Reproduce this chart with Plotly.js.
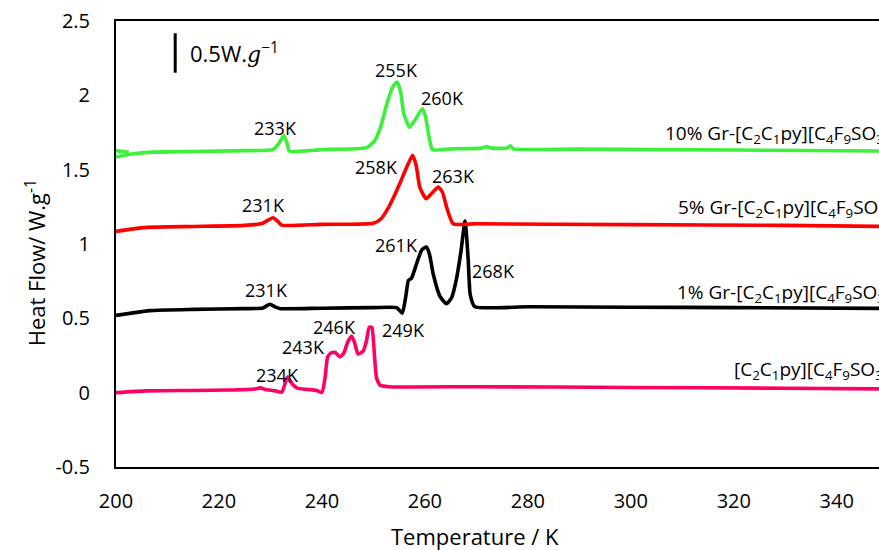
<!DOCTYPE html>
<html>
<head>
<meta charset="utf-8">
<script src="https://cdn.plot.ly/plotly-3.0.1.min.js"></script>
<style>
html, body { margin: 0; padding: 0; overflow: hidden; background: #fff; }
#chart { width: 879px; height: 550px; }
</style>
</head>
<body>
<div id="chart"></div>
<script>
// ---- Data ----
const tempPure = [200, 206, 215, 222, 227, 228, 229, 231, 232.2, 233.3, 234.2, 235.2, 237, 239, 240, 240.6, 241.1, 241.8, 242.6, 243.5, 244.3, 245.0, 245.8, 246.4, 247, 248, 248.6, 249.2, 249.7, 250.1, 250.6, 251.3, 253, 270, 300, 330, 350];
const heatPure = [0.0, 0.012, 0.015, 0.018, 0.025, 0.032, 0.022, 0.012, 0.003, 0.105, 0.06, 0.03, 0.022, 0.015, 0.002, 0.1, 0.24, 0.268, 0.27, 0.24, 0.27, 0.34, 0.38, 0.33, 0.26, 0.28, 0.34, 0.44, 0.44, 0.3, 0.1, 0.05, 0.04, 0.04, 0.035, 0.03, 0.025];

const temp1 = [200, 203, 206.5, 215, 225, 228.5, 229.9, 231, 232, 240, 250, 254.5, 255.6, 256.3, 256.8, 257.4, 258.4, 259.4, 260.3, 260.9, 261.6, 262.9, 264.2, 265.2, 266.1, 267.0, 267.8, 268.4, 268.8, 269.7, 280, 300, 320, 350];
const heat1 = [0.52, 0.535, 0.552, 0.56, 0.565, 0.57, 0.595, 0.575, 0.565, 0.568, 0.572, 0.572, 0.535, 0.65, 0.755, 0.77, 0.87, 0.96, 0.98, 0.93, 0.80, 0.65, 0.598, 0.64, 0.76, 0.95, 1.155, 0.90, 0.66, 0.578, 0.578, 0.575, 0.572, 0.567];

const temp5 = [200, 203, 206, 215, 225, 228.5, 230.5, 231.5, 232.2, 240, 250, 251.5, 252.6, 254, 255.1, 256.5, 257.6, 258.3, 259, 260.2, 261.3, 262.6, 263.4, 264.2, 265.5, 270, 300, 330, 350];
const heat5 = [1.085, 1.1, 1.112, 1.118, 1.125, 1.14, 1.177, 1.15, 1.127, 1.132, 1.14, 1.17, 1.226, 1.32, 1.405, 1.52, 1.597, 1.53, 1.383, 1.305, 1.34, 1.383, 1.35, 1.25, 1.136, 1.136, 1.13, 1.125, 1.118];

const temp10 = [200, 203, 207, 215, 225, 230.5, 231.5, 232.6, 233.2, 233.7, 240, 248.7, 250.3, 251.5, 252.6, 253.8, 254.6, 255.3, 255.9, 257, 258, 259.5, 260.1, 260.7, 261.5, 265, 271, 272, 273, 276, 276.6, 277.2, 290, 320, 350];
const heat10 = [1.585, 1.605, 1.618, 1.622, 1.628, 1.635, 1.67, 1.73, 1.68, 1.625, 1.635, 1.648, 1.697, 1.8, 1.943, 2.06, 2.09, 2.02, 1.876, 1.786, 1.83, 1.91, 1.86, 1.742, 1.634, 1.64, 1.645, 1.655, 1.645, 1.645, 1.66, 1.64, 1.638, 1.632, 1.625];
// short return branch of the 10% curve at the start of the scan
const temp10Start = [200, 202.5];
const heat10Start = [1.628, 1.617];

const seriesNames = [
  "[C<sub>2</sub>C<sub>1</sub>py][C<sub>4</sub>F<sub>9</sub>SO<sub>3</sub>]",
  "1% Gr-[C<sub>2</sub>C<sub>1</sub>py][C<sub>4</sub>F<sub>9</sub>SO<sub>3</sub>]",
  "5% Gr-[C<sub>2</sub>C<sub>1</sub>py][C<sub>4</sub>F<sub>9</sub>SO<sub>3</sub>]",
  "10% Gr-[C<sub>2</sub>C<sub>1</sub>py][C<sub>4</sub>F<sub>9</sub>SO<sub>3</sub>]"
];
const seriesColors = ["#ff0066", "#000000", "#ff0000", "#3cf03c"];

const peakTexts = ["233K", "255K", "260K", "231K", "258K", "263K", "231K", "261K", "268K", "234K", "243K", "246K", "249K"];
const peakX = [230.9, 254.4, 263.5, 228.6, 250.6, 265.5, 229.3, 254.5, 273.4, 231.3, 236.5, 242.5, 255.8];
const peakY = [1.78, 2.17, 1.98, 1.26, 1.515, 1.46, 0.688, 0.99, 0.82, 0.116, 0.305, 0.44, 0.42];

const xTicks = [200, 220, 240, 260, 280, 300, 320, 340];
const yTicks = [-0.5, 0, 0.5, 1, 1.5, 2, 2.5];
const yTickText = ["-0.5", "0", "0.5", "1", "1.5", "2", "2.5"];

// ---- Build ----
const FONT = "'Open Sans', 'Noto Sans', sans-serif";
const xs = [tempPure, temp1, temp5, temp10];
const ys = [heatPure, heat1, heat5, heat10];
const traces = xs.map((x, i) => ({
  x: x, y: ys[i], type: "scatter", mode: "lines",
  line: {color: seriesColors[i], width: 3.6, shape: "spline", smoothing: 0.5},
  hoverinfo: "skip", showlegend: false
}));
traces.push({
  x: temp10Start, y: heat10Start, type: "scatter", mode: "lines",
  line: {color: seriesColors[3], width: 3.6}, hoverinfo: "skip", showlegend: false
});

const annotations = [];
peakTexts.forEach((t, i) => annotations.push({
  x: peakX[i], y: peakY[i], xref: "x", yref: "y", text: t, showarrow: false,
  font: {family: FONT, size: 18, color: "#000"}, xanchor: "center", yanchor: "middle"
}));

const labelX = [319.7, 308.65, 308.8, 306.15];
const labelY = [0.15, 0.67, 1.24, 1.737];
seriesNames.forEach((t, i) => annotations.push({
  x: labelX[i], y: labelY[i], xref: "x", yref: "y", text: t, showarrow: false,
  font: {family: FONT, size: 19, color: "#000"}, xanchor: "left", yanchor: "middle"
}));

// scale bar label
annotations.push({
  x: 214.0, y: 2.29, xref: "x", yref: "y", showarrow: false, xanchor: "left", yanchor: "middle",
  text: "0.5W.<span style=\"font-family:'DejaVu Serif'\"><i>g</i></span><sup>−1</sup>",
  font: {family: FONT, size: 22, color: "#000"}
});
// axis titles
annotations.push({
  x: 0, xref: "paper", xshift: -81, y: 0.87, yref: "y", textangle: -90, showarrow: false,
  xanchor: "center", yanchor: "middle",
  text: "Heat Flow/ W.g<sup>-1</sup>", font: {family: FONT, size: 22, color: "#000"}
});
annotations.push({
  x: 269.7, xref: "x", y: 0, yref: "paper", yshift: -69, showarrow: false,
  xanchor: "center", yanchor: "middle",
  text: "Temperature / K", font: {family: FONT, size: 22, color: "#000"}
});

const layout = {
  width: 879, height: 550,
  margin: {l: 116, r: 0, t: 21, b: 83},
  paper_bgcolor: "#fff", plot_bgcolor: "#fff",
  font: {family: FONT, color: "#000"},
  xaxis: {
    range: [200, 348.2], tickvals: xTicks, showgrid: false, zeroline: false,
    showline: true, linecolor: "#000", linewidth: 2, mirror: true,
    ticks: "", ticklabelstandoff: 15, tickfont: {family: FONT, size: 20, color: "#000"}
  },
  yaxis: {
    range: [-0.5, 2.5], tickvals: yTicks, ticktext: yTickText, showgrid: false, zeroline: false,
    showline: true, linecolor: "#000", linewidth: 2, mirror: false,
    ticks: "", ticklabelstandoff: 20, tickfont: {family: FONT, size: 20, color: "#000"}
  },
  shapes: [{
    type: "line", xref: "x", yref: "y", x0: 211.5, x1: 211.5, y0: 2.152, y1: 2.418,
    line: {color: "#000", width: 3}
  }],
  annotations: annotations
};

Plotly.newPlot("chart", traces, layout, {displayModeBar: false, staticPlot: true});
</script>
</body>
</html>
